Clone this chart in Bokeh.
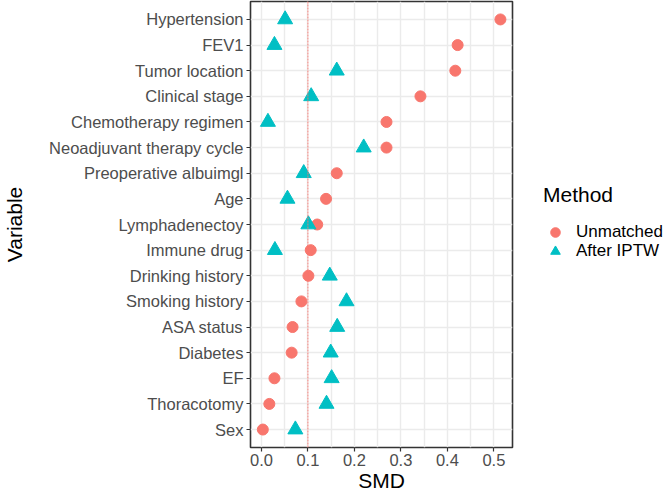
from bokeh.plotting import figure
from bokeh.layouts import row
from bokeh.models import (ColumnDataSource, FactorRange, Range1d, FixedTicker, Span,
                          Legend, LegendItem, PrintfTickFormatter)
from bokeh.embed import file_html
from bokeh.resources import INLINE

variables = ["Hypertension", "FEV1", "Tumor location", "Clinical stage",
             "Chemotherapy regimen", "Neoadjuvant therapy cycle", "Preoperative albuimgl",
             "Age", "Lymphadenectoy", "Immune drug", "Drinking history", "Smoking history",
             "ASA status", "Diabetes", "EF", "Thoracotomy", "Sex"]
unmatched = [0.514, 0.422, 0.417, 0.342, 0.269, 0.269, 0.162, 0.139, 0.120, 0.106,
             0.101, 0.086, 0.067, 0.065, 0.028, 0.017, 0.003]
after_iptw = [0.051, 0.028, 0.162, 0.107, 0.014, 0.220, 0.091, 0.056, 0.101, 0.029,
              0.147, 0.183, 0.163, 0.149, 0.151, 0.140, 0.073]
methods = ["Unmatched", "After IPTW"]
x_ticks = [0.0, 0.1, 0.2, 0.3, 0.4, 0.5]
x_minor = [0.05, 0.15, 0.25, 0.35, 0.45]
threshold = 0.1

FONT = "Liberation Sans"
RED = "#F8766D"
CYAN = "#00BFC4"

src = ColumnDataSource(dict(var=variables, unmatched=unmatched, after=after_iptw))

p = figure(frame_width=262, frame_height=446, output_backend="svg", toolbar_location=None,
           y_range=FactorRange(factors=list(reversed(variables)), range_padding=0.2,
                               range_padding_units="absolute"),
           x_range=Range1d(-0.0235, 0.54),
           min_border_left=250, min_border_right=2, min_border_top=1, min_border_bottom=46)
p.background_fill_color = "white"
p.border_fill_color = "white"
p.outline_line_color = "#333333"
p.outline_line_width = 1.6

# grids
p.xgrid.ticker = FixedTicker(ticks=x_ticks, minor_ticks=x_minor)
p.xgrid.grid_line_color = "#EBEBEB"
p.xgrid.grid_line_width = 1.4
p.xgrid.minor_grid_line_color = "#EBEBEB"
p.xgrid.minor_grid_line_width = 1.4
p.ygrid.grid_line_color = "#EBEBEB"
p.ygrid.grid_line_width = 1.4

# axes
p.xaxis.ticker = FixedTicker(ticks=x_ticks)
p.xaxis.formatter = PrintfTickFormatter(format="%.1f")
for ax in (p.xaxis[0], p.yaxis[0]):
    ax.axis_line_color = None
    ax.major_tick_line_color = "#333333"
    ax.major_tick_line_width = 1.2
    ax.major_tick_out = 4
    ax.major_tick_in = 0
    ax.minor_tick_line_color = None
    ax.major_label_text_font = FONT
    ax.major_label_text_font_size = "16.5px"
    ax.major_label_text_color = "#4D4D4D"
    ax.axis_label_text_font = FONT
    ax.axis_label_text_font_size = "21px"
    ax.axis_label_text_font_style = "normal"
    ax.axis_label_text_color = "black"
p.xaxis.axis_label = "SMD"
p.yaxis.axis_label = "Variable"
p.xaxis.major_label_standoff = 2
p.xaxis.axis_label_standoff = 0
p.yaxis.major_label_standoff = 3
p.yaxis.axis_label_standoff = 20

p.add_layout(Span(location=threshold, dimension="height", line_color=RED,
                  line_width=1, line_dash="2 1", line_alpha=0.9))

p.scatter(x="unmatched", y="var", source=src, marker="circle", size=11,
          fill_color=RED, line_color=RED)
p.scatter(x="after", y="var", source=src, marker="triangle", size=15,
          fill_color=CYAN, line_color=CYAN)

# legend panel (separate figure to the right of the plot); its ranges lie
# outside the data, so its renderers only feed the legend glyphs
lp = figure(width=150, height=493, output_backend="svg", toolbar_location=None,
            x_range=Range1d(10, 11), y_range=Range1d(10, 11),
            x_axis_location=None, y_axis_location=None,
            min_border_left=0, min_border_right=0, min_border_top=0, min_border_bottom=0)
lp.outline_line_color = None
lp.xgrid.visible = False
lp.ygrid.visible = False
lp.background_fill_color = "white"
lp.border_fill_color = "white"
l1 = lp.scatter(x="unmatched", y="after", source=src, marker="circle", size=11,
                fill_color=RED, line_color=RED)
l2 = lp.scatter(x="after", y="unmatched", source=src, marker="triangle", size=15,
                fill_color=CYAN, line_color=CYAN)

common = dict(label_text_font=FONT, label_text_font_size="17px", label_text_color="black",
              glyph_width=24, glyph_height=28, label_height=19, spacing=0, label_standoff=9,
              border_line_color=None, background_fill_alpha=0,
              margin=0, padding=0, orientation="vertical")
legend1 = Legend(items=[LegendItem(label=methods[0], renderers=[l1], index=0)],
                 location=(29, 200), title="Method",
                 title_text_font=FONT, title_text_font_size="21px", title_text_font_style="normal",
                 title_text_color="black", title_standoff=11, **common)
legend2 = Legend(items=[LegendItem(label=methods[1], renderers=[l2], index=0)],
                 location=(29, 181), **common)
lp.add_layout(legend1, "center")
lp.add_layout(legend2, "center")

layout = row(p, lp, spacing=0)
open("out.html", "w").write(file_html(layout, INLINE))
